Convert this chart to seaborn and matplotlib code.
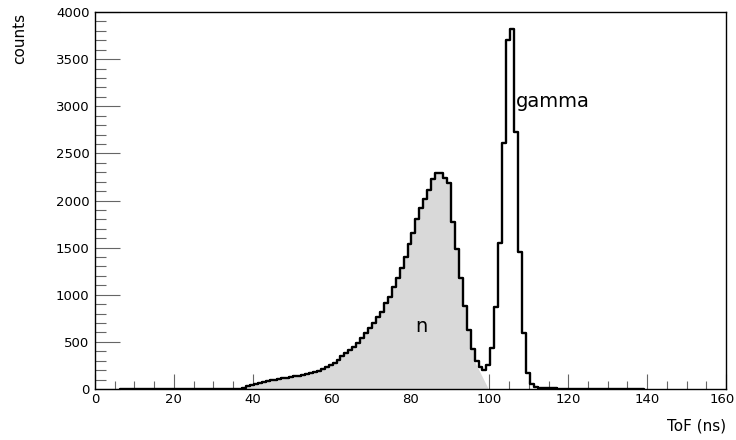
import numpy as np
import pandas as pd
import matplotlib
matplotlib.use("Agg")
import matplotlib.pyplot as plt
import matplotlib.transforms as mtransforms
import seaborn as sns
from matplotlib.ticker import MultipleLocator

# ---- data ----
bin_lo = 6.25       # first bin lower edge (ns)
bin_hi = 139.25     # last bin upper edge (ns)
# counts per 1-ns bin starting at 37.25 ns
first_bin = 37.25
counts = [
    15, 30, 42, 53, 63, 73, 82, 91, 100, 108,          # 37-46
    115, 122, 129, 136, 143, 151, 160, 170, 182, 196,  # 47-56
    212, 232, 255, 280, 310, 345, 378, 414, 449, 492,  # 57-66
    545, 591, 644, 697, 760, 820, 909, 980, 1079, 1174,  # 67-76
    1280, 1397, 1538, 1659, 1800, 1917, 2013, 2111, 2228, 2288,  # 77-86
    2288, 2235, 2182, 1775, 1482, 1174, 884, 626, 421, 300,  # 87-96
    230, 200, 255, 430, 873, 1546, 2613, 3703, 3816, 2730,  # 97-106
    1457, 591, 166, 50, 25, 14, 10, 8, 7, 6,  # 107-116
    5, 4, 4, 3, 3, 2, 2, 2, 2, 1,  # 117-126
    1, 1, 1, 1,  # 127-130
]
n_last_edge = 97.25             # neutron region ends (shaded histogram part)
n_tail_x = [96.4, 99.75]        # neutron fit tail (ns)
n_tail_y = [280, 0]             # neutron fit tail (counts)

x_ticks = [0, 20, 40, 60, 80, 100, 120, 140, 160]
x_tick_labels = ["0", "20", "40", "60", "80", "100", "120", "140", "160"]
x_label = "ToF (ns)"
y_label = "counts"
labels = [("gamma", 106.7, 3050), ("n", 81.3, 660)]

# ---- build full histogram table ----
edges = np.arange(bin_lo, bin_hi + 0.5, 1.0)
full = np.zeros(len(edges) - 1)
i0 = int(round(first_bin - bin_lo))
for i, c in enumerate(counts):
    full[i0 + i] = c
centers = edges[:-1] + 0.5
df = pd.DataFrame({"tof": centers, "counts": full})

sns.set_style("white")
plt.rcParams["font.family"] = ["DejaVu Sans"]
plt.rcParams["text.color"] = "black"

fig = plt.figure(figsize=(7.36, 4.40), dpi=100)
ax = fig.add_axes([95 / 736, 1 - 389 / 440, (726 - 95) / 736, (389 - 12) / 440])

# shaded neutron part
ndf = df[(df.tof > first_bin) & (df.tof < n_last_edge)]
nx = np.repeat(ndf.tof.values - 0.5, 2)[1:]
nx = np.append(nx, ndf.tof.values[-1] + 0.5)
ny = np.repeat(ndf.counts.values, 2)
mask = nx <= n_tail_x[0]
gx = np.concatenate([nx[mask], [n_tail_x[0]], n_tail_x])
gy = np.concatenate([ny[mask], [ny[mask][-1]], n_tail_y])
ax.fill_between(gx, gy, 0, color="#d9d9d9", linewidth=0, zorder=1)

# total histogram outline
sns.histplot(data=df, x="tof", weights="counts", bins=[float(e) for e in edges],
             element="step", fill=False, color="black", linewidth=1.7, ax=ax)

ax.set_xlim(0, 160)
ax.set_ylim(0, 4000)
ax.set_xticks(x_ticks, x_tick_labels)
ax.xaxis.set_minor_locator(MultipleLocator(5))
ax.yaxis.set_major_locator(MultipleLocator(500))
ax.yaxis.set_minor_locator(MultipleLocator(100))
ax.tick_params(axis="both", which="both", direction="in", colors="#666666",
               labelcolor="black", labelsize=9.5, top=False, right=False,
               bottom=True, left=True)
ax.tick_params(axis="x", which="major", length=11, width=0.8, pad=3)
ax.tick_params(axis="x", which="minor", length=6, width=0.8)
ax.tick_params(axis="y", which="major", length=18, width=0.8, pad=4)
ax.tick_params(axis="y", which="minor", length=8, width=0.8)
for s in ax.spines.values():
    s.set_color("black")
    s.set_linewidth(1.0)
    s.set_zorder(5)

# keep the last x tick label inside the canvas
last_lab = ax.get_xticklabels()[-1]
last_lab.set_transform(last_lab.get_transform() +
                       mtransforms.ScaledTranslation(-4 / 100, 0, fig.dpi_scale_trans))

ax.set_xlabel("")
ax.set_ylabel("")
fig.text(726 / 736, 1 - 426 / 440, x_label, ha="right", va="center",
         fontsize=11, color="black")
fig.text(20 / 736, 1 - 13 / 440, y_label, ha="center", va="top", rotation=90,
         fontsize=11, color="black")

for txt, x, y in labels:
    ax.text(x, y, txt, fontsize=14, ha="left", va="center", zorder=4, color="black")

fig.savefig("out.png", dpi=100)
